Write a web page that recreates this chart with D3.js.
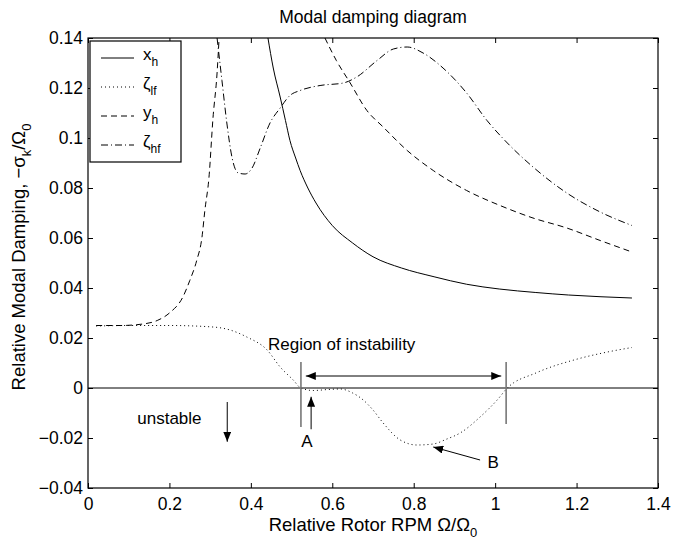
<!DOCTYPE html>
<html>
<head>
<meta charset="utf-8">
<script src="https://cdn.jsdelivr.net/npm/d3@7"></script>
<style>
  body { margin: 0; background: #fff; }
  text { font-family: "Liberation Sans", Arial, sans-serif; fill: #000; }
</style>
</head>
<body>
<div id="viz"></div>
<script>
(function() {

// Values.
let xTicks = [0, 0.2, 0.4, 0.6, 0.8, 1.0, 1.2, 1.4];
let yTicks = [-0.04, -0.02, 0, 0.02, 0.04, 0.06, 0.08, 0.1, 0.12, 0.14];

// x_h, solid
let xhX = [0.442, 0.455, 0.472, 0.485, 0.496, 0.51, 0.521, 0.54, 0.56, 0.6, 0.65, 0.7, 0.77, 0.85, 0.93, 1.01, 1.1, 1.18, 1.26, 1.336];
let xhY = [0.14, 0.128, 0.1164, 0.107, 0.099, 0.092, 0.087, 0.080, 0.074, 0.065, 0.058, 0.0525, 0.048, 0.0445, 0.0415, 0.0396, 0.0382, 0.0372, 0.0365, 0.036];

// zeta_lf, dotted
let zlX = [0.02, 0.1, 0.2, 0.307, 0.349, 0.39, 0.44, 0.472, 0.504, 0.523, 0.553, 0.59, 0.62, 0.65, 0.676, 0.70, 0.725, 0.767, 0.808, 0.848, 0.88, 0.914, 0.963, 1.005, 1.03, 1.1, 1.2, 1.27, 1.336];
let zlY = [0.0248, 0.025, 0.025, 0.0244, 0.0232, 0.0204, 0.0152, 0.0084, 0.0032, 0, -0.001, -0.0006, -0.0004, -0.002, -0.0048, -0.0088, -0.014, -0.0208, -0.0228, -0.0224, -0.0205, -0.018, -0.0116, -0.0048, 0, 0.006, 0.0115, 0.0142, 0.0162];

// y_h, dashed (null = off the top of the axes)
let yhX = [0.02, 0.08, 0.135, 0.17, 0.2, 0.233, 0.25, 0.267, 0.28, 0.287, 0.297, 0.307, 0.317, 0.322, 0.45, 0.582, 0.61, 0.644, 0.685, 0.725, 0.784, 0.848, 0.93, 1.012, 1.093, 1.176, 1.258, 1.336];
let yhY = [0.025, 0.025, 0.0256, 0.027, 0.030, 0.0364, 0.043, 0.051, 0.0604, 0.071, 0.084, 0.108, 0.126, 0.14, null, 0.14, 0.131, 0.122, 0.111, 0.1044, 0.095, 0.087, 0.079, 0.073, 0.068, 0.064, 0.059, 0.0544];

// zeta_hf, dash-dot
let zhX = [0.317, 0.329, 0.341, 0.354, 0.369, 0.386, 0.403, 0.423, 0.447, 0.472, 0.496, 0.521, 0.57, 0.627, 0.66, 0.71, 0.75, 0.784, 0.823, 0.872, 0.93, 0.98, 1.03, 1.093, 1.176, 1.258, 1.336];
let zhY = [0.14, 0.123, 0.106, 0.092, 0.086, 0.0856, 0.088, 0.096, 0.106, 0.112, 0.117, 0.119, 0.121, 0.122, 0.1244, 0.131, 0.1356, 0.1364, 0.134, 0.128, 0.118, 0.107, 0.098, 0.0884, 0.078, 0.0704, 0.065];

let series = [
  {name: "x", sub: "h", xs: xhX, ys: xhY, dash: null},
  {name: "\u03b6", sub: "lf", xs: zlX, ys: zlY, dash: "1,3"},
  {name: "y", sub: "h", xs: yhX, ys: yhY, dash: "6,4"},
  {name: "\u03b6", sub: "hf", xs: zhX, ys: zhY, dash: "7,3,1,3"}
];

// Annotations (data coordinates)
let markerLines = [
  {x: 0.523, y0: -0.0156, y1: 0.0104},
  {x: 1.027, y0: -0.0144, y1: 0.0104}
];
let arrows = [
  {x0: 0.535, y0: 0.0048, x1: 1.015, y1: 0.0048, both: true},
  {x0: 0.548, y0: -0.0165, x1: 0.548, y1: -0.0035, both: false},
  {x0: 0.963, y0: -0.0288, x1: 0.848, y1: -0.0236, both: false},
  {x0: 0.342, y0: -0.0056, x1: 0.342, y1: -0.0215, both: false}
];
let labels = [
  {t: "Region of instability", x: 0.442, y: 0.0175, anchor: "start"},
  {t: "A", x: 0.538, y: -0.0215, anchor: "middle"},
  {t: "B", x: 0.995, y: -0.0298, anchor: "middle"},
  {t: "unstable", x: 0.2, y: -0.0122, anchor: "middle"}
];

let canvasWidth = 677;
let canvasHeight = 546;
let left = 88, right = 658, top = 38, bottom = 488;

let svg = d3.select("#viz").append("svg")
  .attr("width", canvasWidth)
  .attr("height", canvasHeight);

let x = d3.scaleLinear().domain([0, 1.4]).range([left, right]);
let y = d3.scaleLinear().domain([-0.04, 0.14]).range([bottom, top]);

let defs = svg.append("defs");
defs.append("clipPath").attr("id", "plotclip")
  .append("rect")
  .attr("x", left).attr("y", top)
  .attr("width", right - left).attr("height", bottom - top);
defs.append("marker")
  .attr("id", "head")
  .attr("markerUnits", "userSpaceOnUse")
  .attr("viewBox", "0 0 10 8")
  .attr("refX", 10).attr("refY", 4)
  .attr("markerWidth", 10).attr("markerHeight", 8)
  .attr("orient", "auto-start-reverse")
  .append("path")
  .attr("d", "M0,0 L10,4 L0,8 Z")
  .attr("fill", "#000");

// Title
svg.append("text")
  .attr("x", (left + right) / 2)
  .attr("y", 23)
  .attr("text-anchor", "middle")
  .attr("font-size", 17.5)
  .text("Modal damping diagram");

// Axes with inward ticks on all four sides
let fmt = (d) => d === 0 ? "0" : d3.format("")(+d.toFixed(2)).replace("-", "\u2212");

svg.append("g")
  .attr("transform", "translate(0," + bottom + ")")
  .call(d3.axisBottom(x).tickValues(xTicks).tickFormat(fmt)
    .tickSizeInner(-5).tickSizeOuter(0).tickPadding(10));
svg.append("g")
  .attr("transform", "translate(0," + top + ")")
  .call(d3.axisTop(x).tickValues(xTicks).tickFormat("")
    .tickSizeInner(-5).tickSizeOuter(0));
svg.append("g")
  .attr("transform", "translate(" + left + ",0)")
  .call(d3.axisLeft(y).tickValues(yTicks).tickFormat(fmt)
    .tickSizeInner(-5).tickSizeOuter(0).tickPadding(5));
svg.append("g")
  .attr("transform", "translate(" + right + ",0)")
  .call(d3.axisRight(y).tickValues(yTicks).tickFormat("")
    .tickSizeInner(-5).tickSizeOuter(0));

svg.selectAll(".domain").remove();
svg.selectAll(".tick line").attr("stroke", "#000");
svg.selectAll(".tick text")
  .attr("font-family", "Liberation Sans, Arial, sans-serif")
  .attr("font-size", 17.5)
  .attr("fill", "#000");

svg.append("rect")
  .attr("x", left).attr("y", top)
  .attr("width", right - left).attr("height", bottom - top)
  .attr("fill", "none")
  .attr("stroke", "#000")
  .attr("stroke-width", 1.2);

// Axis labels
let xl = svg.append("text")
  .attr("x", (left + right) / 2)
  .attr("y", 531)
  .attr("text-anchor", "middle")
  .attr("font-size", 18.5);
xl.append("tspan").text("Relative Rotor RPM \u03a9/\u03a9");
xl.append("tspan").attr("dy", 6).attr("font-size", 13).text("0");

let yl = svg.append("text")
  .attr("transform", "translate(25," + ((top + bottom) / 2 - 6) + ") rotate(-90)")
  .attr("text-anchor", "middle")
  .attr("font-size", 18.5);
yl.append("tspan").text("Relative Modal Damping, \u2212\u03c3");
yl.append("tspan").attr("dy", 6).attr("font-size", 13).text("k");
yl.append("tspan").attr("dy", -6).text("/\u03a9");
yl.append("tspan").attr("dy", 6).attr("font-size", 13).text("0");

// Zero line
svg.append("line")
  .attr("x1", x(0)).attr("x2", x(1.4))
  .attr("y1", y(0)).attr("y2", y(0))
  .attr("stroke", "#000");

// Curves
let plot = svg.append("g").attr("clip-path", "url(#plotclip)");
let line = d3.line()
  .defined((d) => d[1] !== null)
  .x((d) => x(d[0]))
  .y((d) => y(d[1]))
  .curve(d3.curveMonotoneX);

series.forEach((s) => {
  let pts = s.xs.map((v, i) => [v, s.ys[i]]);
  plot.append("path")
    .attr("d", line(pts))
    .attr("fill", "none")
    .attr("stroke", "#000")
    .attr("stroke-width", 1)
    .attr("stroke-dasharray", s.dash);
});

// Annotations
markerLines.forEach((m) => {
  svg.append("line")
    .attr("x1", x(m.x)).attr("x2", x(m.x))
    .attr("y1", y(m.y0)).attr("y2", y(m.y1))
    .attr("stroke", "#777")
    .attr("stroke-width", 1.6);
});
arrows.forEach((a) => {
  let l = svg.append("line")
    .attr("x1", x(a.x0)).attr("y1", y(a.y0))
    .attr("x2", x(a.x1)).attr("y2", y(a.y1))
    .attr("stroke", "#000")
    .attr("stroke-width", 1)
    .attr("marker-end", "url(#head)");
  if (a.both) l.attr("marker-start", "url(#head)");
});
labels.forEach((t) => {
  svg.append("text")
    .attr("x", x(t.x)).attr("y", y(t.y))
    .attr("text-anchor", t.anchor)
    .attr("dominant-baseline", "central")
    .attr("font-size", 17)
    .text(t.t);
});

// Legend
let lg = svg.append("g");
lg.append("rect")
  .attr("x", 90).attr("y", 41)
  .attr("width", 91).attr("height", 121)
  .attr("fill", "#fff")
  .attr("stroke", "#000")
  .attr("stroke-width", 1.2);
series.forEach((s, i) => {
  let yy = 58 + i * 29;
  lg.append("line")
    .attr("x1", 101).attr("x2", 134)
    .attr("y1", yy).attr("y2", yy)
    .attr("stroke", "#000")
    .attr("stroke-dasharray", s.dash);
  let t = lg.append("text")
    .attr("x", 143).attr("y", yy + 2)
    .attr("font-size", 17);
  t.append("tspan").text(s.name);
  t.append("tspan").attr("dy", 6).attr("font-size", 12).text(s.sub);
});

})();
</script>
</body>
</html>
